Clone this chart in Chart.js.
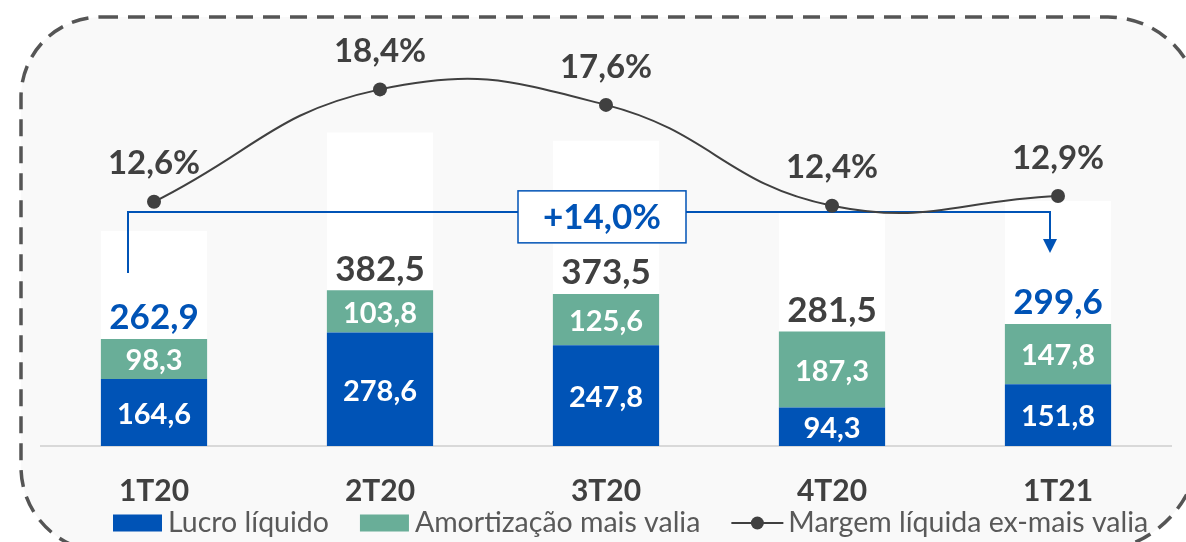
<!DOCTYPE html>
<html>
<head>
<meta charset="utf-8">
<script src="https://cdn.jsdelivr.net/npm/chart.js@4.4.1/dist/chart.umd.min.js"></script>
<style>
  html, body { margin: 0; padding: 0; background: #fff; }
</style>
</head>
<body>
<canvas id="grafico" width="1186" height="542"></canvas>
<script>
const trimestres = ['1T20', '2T20', '3T20', '4T20', '1T21'];
const lucroLiquido = [164.6, 278.6, 247.8, 94.3, 151.8];
const amortizacao = [98.3, 103.8, 125.6, 187.3, 147.8];
const totais = [262.9, 382.5, 373.5, 281.5, 299.6];
const margem = [12.6, 18.4, 17.6, 12.4, 12.9];
const fundoBarras = [528, 770, 750, 573, 602];
const totaisDestaque = [0, 4];
const variacao = '+14,0%';

const AZUL = '#0053b6';
const VERDE = '#69ae98';
const CINZA = '#404040';
const FONTE = 'Lato, "Noto Sans", sans-serif';

const fmt = v => v.toFixed(1).replace('.', ',');

// moldura tracejada + fundo cinza
const moldura = {
  id: 'moldura',
  beforeDraw(chart) {
    const ctx = chart.ctx;
    const l = 21, t = 17, r = 1200, b = 552;
    const rTL = 80, rTR = 92, rBR = 110, rBL = 85;
    ctx.save();
    ctx.beginPath();
    ctx.moveTo(l + rTL, t);
    ctx.lineTo(r - rTR, t);
    ctx.arcTo(r, t, r, t + rTR, rTR);
    ctx.lineTo(r, b - rBR);
    ctx.arcTo(r, b, r - rBR, b, rBR);
    ctx.lineTo(l + rBL, b);
    ctx.arcTo(l, b, l, b - rBL, rBL);
    ctx.lineTo(l, t + rTL);
    ctx.arcTo(l, t, l + rTL, t, rTL);
    ctx.closePath();
    ctx.fillStyle = '#f9f9f9';
    ctx.fill();
    ctx.setLineDash([17, 10]);
    ctx.lineWidth = 3.5;
    ctx.strokeStyle = '#555555';
    ctx.stroke();
    ctx.restore();
  }
};

// seta de variacao 1T20 -> 1T21
const seta = {
  id: 'seta',
  beforeDatasetDraw(chart, args) {
    if (args.meta.type !== 'line') return;
    const ctx = chart.ctx;
    const x = chart.scales.x, y = chart.scales.y;
    const x0 = x.getPixelForValue(0) - 26;
    const x1 = x.getPixelForValue(4) - 8;
    const yTopo = y.getPixelForValue(575);
    const yIni = y.getPixelForValue(425);
    const yPonta = y.getPixelForValue(474);
    ctx.save();
    ctx.strokeStyle = AZUL;
    ctx.fillStyle = AZUL;
    ctx.lineWidth = 2;
    ctx.beginPath();
    ctx.moveTo(x0, yIni);
    ctx.lineTo(x0, yTopo);
    ctx.lineTo(x1, yTopo);
    ctx.lineTo(x1, yPonta - 13);
    ctx.stroke();
    ctx.beginPath();
    ctx.moveTo(x1 - 7, yPonta - 14);
    ctx.lineTo(x1 + 7, yPonta - 14);
    ctx.lineTo(x1, yPonta);
    ctx.closePath();
    ctx.fill();
    // caixa
    const cx = x.getPixelForValue(2) - 4;
    const cy = y.getPixelForValue(563);
    const w = 168, h = 52;
    ctx.fillStyle = '#ffffff';
    ctx.fillRect(cx - w / 2, cy - h / 2, w, h);
    ctx.lineWidth = 1.5;
    ctx.strokeRect(cx - w / 2, cy - h / 2, w, h);
    ctx.fillStyle = AZUL;
    ctx.font = 'bold 35px ' + FONTE;
    ctx.textAlign = 'center';
    ctx.textBaseline = 'middle';
    ctx.fillText(variacao, cx, cy + 1);
    ctx.restore();
  }
};

// rotulos de dados
const rotulos = {
  id: 'rotulos',
  afterDatasetsDraw(chart) {
    const ctx = chart.ctx;
    ctx.save();
    ctx.textAlign = 'center';
    ctx.textBaseline = 'middle';
    const metaLucro = chart.getDatasetMeta(1);
    const metaAmort = chart.getDatasetMeta(2);
    const metaMargem = chart.getDatasetMeta(3);
    ctx.fillStyle = '#ffffff';
    ctx.font = 'bold 29px ' + FONTE;
    metaLucro.data.forEach((el, i) => {
      ctx.fillText(fmt(lucroLiquido[i]), el.x, (el.y + el.base) / 2 + 2);
    });
    metaAmort.data.forEach((el, i) => {
      ctx.fillText(fmt(amortizacao[i]), el.x, (el.y + el.base) / 2 + 2);
    });
    ctx.font = 'bold 35px ' + FONTE;
    metaAmort.data.forEach((el, i) => {
      ctx.fillStyle = totaisDestaque.includes(i) ? AZUL : CINZA;
      ctx.fillText(fmt(totais[i]), el.x, el.y - 21);
    });
    ctx.fillStyle = CINZA;
    ctx.font = 'bold 33px ' + FONTE;
    metaMargem.data.forEach((el, i) => {
      ctx.fillText(fmt(margem[i]) + '%', el.x, el.y - 38);
    });
    ctx.restore();
  }
};

// legenda
const legenda = {
  id: 'legenda',
  afterDraw(chart) {
    const ctx = chart.ctx;
    const itens = [
      { texto: 'Lucro líquido', cor: AZUL, tipo: 'caixa' },
      { texto: 'Amortização mais valia', cor: VERDE, tipo: 'caixa' },
      { texto: 'Margem líquida ex-mais valia', cor: CINZA, tipo: 'linha' }
    ];
    const yc = 523;
    let x = 113;
    ctx.save();
    ctx.font = '28.5px ' + FONTE;
    ctx.textBaseline = 'middle';
    ctx.textAlign = 'left';
    itens.forEach(it => {
      if (it.tipo === 'caixa') {
        ctx.fillStyle = it.cor;
        ctx.fillRect(x, yc - 8.5, 49, 17);
      } else {
        ctx.strokeStyle = it.cor;
        ctx.lineWidth = 2;
        ctx.beginPath();
        ctx.moveTo(x, yc);
        ctx.lineTo(x + 52, yc);
        ctx.stroke();
        ctx.fillStyle = it.cor;
        ctx.beginPath();
        ctx.arc(x + 26, yc, 6.5, 0, Math.PI * 2);
        ctx.fill();
      }
      x += it.tipo === 'caixa' ? 55 : 57;
      ctx.fillStyle = '#595959';
      ctx.fillText(it.texto, x, yc);
      x += ctx.measureText(it.texto).width + 31;
    });
    ctx.restore();
  }
};

const barraComum = { categoryPercentage: 1, barPercentage: 0.47, grouped: false };

new Chart(document.getElementById('grafico'), {
  data: {
    labels: trimestres,
    datasets: [
      Object.assign({
        type: 'bar',
        label: 'fundo',
        data: fundoBarras,
        backgroundColor: '#ffffff',
        xAxisID: 'xFundo',
        yAxisID: 'y',
        order: 3
      }, barraComum),
      Object.assign({
        type: 'bar',
        label: 'Lucro líquido',
        data: lucroLiquido,
        backgroundColor: AZUL,
        xAxisID: 'x',
        yAxisID: 'y',
        order: 2
      }, barraComum),
      Object.assign({
        type: 'bar',
        label: 'Amortização mais valia',
        data: amortizacao,
        backgroundColor: VERDE,
        xAxisID: 'x',
        yAxisID: 'y',
        order: 2
      }, barraComum),
      {
        type: 'line',
        label: 'Margem líquida ex-mais valia',
        data: margem,
        borderColor: CINZA,
        backgroundColor: CINZA,
        borderWidth: 2,
        pointRadius: 7,
        pointBackgroundColor: CINZA,
        pointBorderWidth: 0,
        tension: 0.45,
        xAxisID: 'x',
        yAxisID: 'y1',
        order: 0
      }
    ]
  },
  options: {
    responsive: false,
    animation: false,
    layout: { padding: { left: 41, right: 15, top: 39, bottom: 6 } },
    plugins: {
      legend: { display: false },
      tooltip: { enabled: false }
    },
    scales: {
      x: {
        stacked: true,
        offset: true,
        grid: { display: false, drawTicks: false },
        border: { display: true, color: '#d9d9d9', width: 2 },
        ticks: {
          padding: 27,
          color: CINZA,
          font: { family: FONTE, size: 30, weight: 'bold' }
        }
      },
      xFundo: {
        type: 'category',
        stacked: true,
        offset: true,
        display: false
      },
      y: {
        stacked: true,
        min: 0,
        max: 1000,
        display: false
      },
      y1: {
        position: 'right',
        min: 0,
        max: 21,
        display: false
      }
    }
  },
  plugins: [moldura, seta, rotulos, legenda]
});
</script>
</body>
</html>
